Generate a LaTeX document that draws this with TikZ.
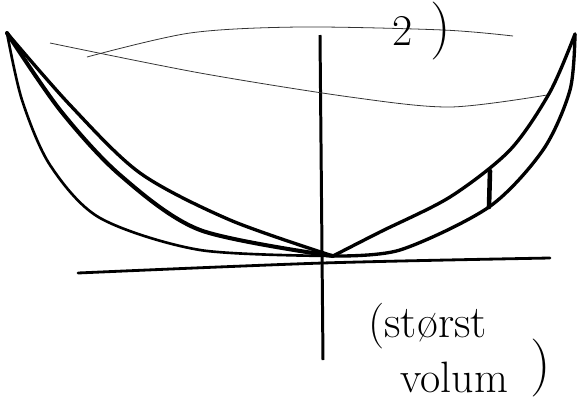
\documentclass[tikz,border=0pt]{standalone}
\usepackage{fontspec}
\usepackage{tikz}
\usetikzlibrary{calc}

\begin{document}
\begin{tikzpicture}[x=0.02cm, y=-0.02cm,
    curva/.style={line width=1.9pt, line cap=round, line join=round},
    sottile/.style={line width=0.45pt, black!80},
    scritta/.style={inner sep=0pt, font=\fontsize{25}{28}\selectfont}]
  \useasboundingbox (0,0) rectangle (579,403);

  % punti
  \coordinate (PS) at (7,33);
  \coordinate (PD) at (575,34);
  \coordinate (O) at (333,256);
  \coordinate (A) at (490,171);
  \coordinate (B) at (489,207);

  % assi
  \draw[line width=1.7pt] (320,35) -- (323,360);
  \draw[line width=1.6pt, line cap=round]
    plot[smooth] coordinates {(78,273) (323,263) (550,258)};

  % linee sottili
  \draw[sottile]
    plot[smooth] coordinates {(87,57) (190,33) (300,27) (443,30) (513,36)};
  \draw[sottile]
    plot[smooth] coordinates {(50,43) (200,73) (350,97) (450,107) (547,95)};

  % curve a sinistra
  \draw[curva, line width=1.5pt]
    plot[smooth] coordinates {(PS) (22,100) (50,165) (100,218) (200,250) (O)};
  \draw[curva, line width=2.3pt]
    plot[smooth] coordinates {(PS) (60,110) (120,175) (200,230) (O)};
  \draw[curva]
    plot[smooth] coordinates {(PS) (70,105) (140,173) (230,220) (O)};

  % curve a destra
  \draw[curva]
    plot[smooth] coordinates {(O) (380,232) (450,197) (510,150) (550,92) (PD)};
  \draw[curva]
    plot[smooth] coordinates {(O) (400,250) (B) (543,150) (570,90) (PD)};
  \draw[curva, line width=2.6pt] (A) -- (B);

  % scritte
  \node[scritta] (due) at (403,31) {2};
  \node[scritta, font=\fontsize{33}{33}\selectfont] (par1) at (441,31) {)};
  \node[scritta, anchor=west, font=\fontsize{26}{28}\selectfont] (storst) at (368,326) {(størst};
  \node[scritta, anchor=west] (volum) at (400,377) {volum};
  \node[scritta, font=\fontsize{33}{33}\selectfont] (par2) at (541,368) {)};
\end{tikzpicture}
\end{document}
